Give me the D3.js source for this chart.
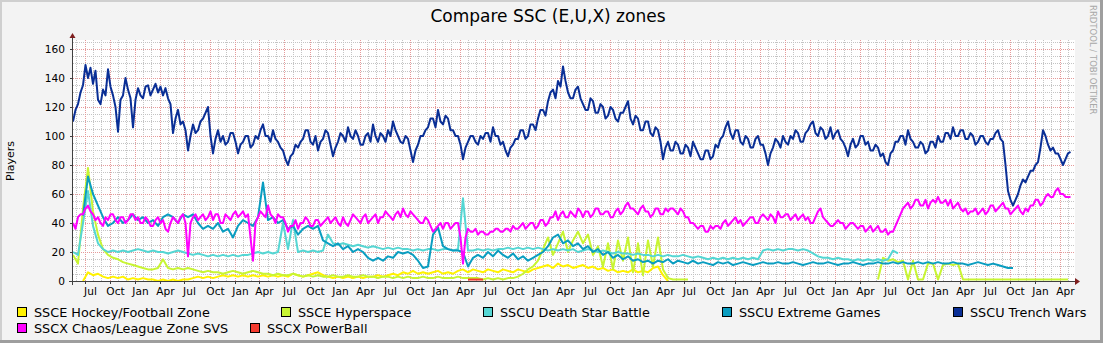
<!DOCTYPE html>
<html><head><meta charset="utf-8">
<script src="https://cdn.jsdelivr.net/npm/d3@7"></script>
<style>
html,body{margin:0;padding:0;background:#f3f3f3;}
svg{display:block;font-family:"DejaVu Sans",sans-serif;}
</style></head>
<body>
<svg id="chart" width="1103" height="343"></svg>
<script>
// ---- data (regular RRD steps across 10 years) ----
const startDate = new Date(2009, 4, 20);
const endDate = new Date(2019, 4, 20);

const seriesNames = ["SSCE Hockey/Football Zone","SSCE Hyperspace","SSCU Death Star Battle","SSCU Extreme Games","SSCU Trench Wars","SSCX Chaos/League Zone SVS","SSCX PowerBall"];
const seriesColors = ["#fff200","#c8f532","#55d6d3","#0a9dc0","#0a2f96","#ff00ff","#f53b2f"];

const _ = null;
// 201 samples (~18 days each)
const hockey = [_,_,0,6,4,5,3,2,3,2, 3,1,2,1,2,1,1,0,1,0, 1,0,1,1,2,3,2,3,2,3, 4,3,4,3,4,3,4,3,4,3,
 4,3,4,3,5,4,3,4,5,6, 4,3,2,3,2,3,2,3,2,3, 3,4,3,4,5,4,6,5,7,5, 6,5,6,7,5,6,5,7,8,6,
 8,7,6,8,7,6,8,7,6,8, 7,6,8,9,10,11,9,12,10,11, 9,10,11,9,10,8,9,7,8,6, 7,6,8,6,7,6,9,10,4,0,
 _,_,_,_,_,_,_,_,_,_, _,_,_,_,_,_,_,_,_,_, _,_,_,_,_,_,_,_,_,_, _,_,_,_,_,_,_,_,_,_,
 _,_,_,_,_,_,_,_,_,_, _,_,_,_,_,_,_,_,_,_, _,_,_,_,_,_,_,_,_,_, _,_,_,_,_,_,_,_,_,_, _];
const hyperspace = [18,12,50,78,48,32,22,18,16,15, 13,12,11,10,9,8,8,9,15,9, 8,9,8,9,8,7,6,7,6,6, 5,6,7,6,5,6,7,6,5,5,
 4,5,4,4,5,4,3,4,3,4, 3,3,4,3,3,4,3,3,4,3, 3,2,3,3,2,3,2,3,2,2, 3,2,2,3,2,2,2,3,2,2,
 2,2,1,2,1,2,1,2,2,3, 5,8,10,14,22,30,18,26,34,20, 28,34,26,32,18,24,10,26,8,28, 14,30,6,26,4,28,10,30,8,2,
 1,1,1,1,_,_,_,_,_,_, _,_,_,_,_,_,_,_,_,_, _,_,_,_,_,_,_,_,_,_, _,_,_,_,_,_,_,_,_,_,
 _,1,16,14,15,13,14,1,14,1, 1,12,12,1,11,12,11,12,1,1, 1,1,1,1,1,1,1,1,1,1, 1,1,1,1,1,1,1,1,1,1, _];
const deathStar = [20,18,40,62,38,26,22,20,21,20, 21,20,21,22,21,20,21,20,20,19, 20,21,20,19,18,19,18,17,18,17, 18,17,18,17,18,18,19,20,19,20,
 19,20,40,22,42,20,21,20,21,20, 21,32,26,25,26,25,24,25,24,23, 24,23,22,23,22,23,22,22,21,22, 21,22,22,21,22,22,21,22,57,21,
 21,22,21,22,21,22,22,23,22,23, 22,23,22,23,22,21,22,21,22,21, 22,20,21,22,21,20,21,20,19,20, 19,19,18,19,18,18,17,18,17,18,
 17,17,18,17,16,17,16,15,16,15, 16,15,16,15,16,15,16,15,21,22, 21,22,21,22,22,21,22,21,19,17, 16,16,15,16,15,15,14,15,14,15,
 14,15,14,15,21,19,_,_,_,_, _,_,_,_,_,_,_,_,_,_, _,_,_,_,_,_,_,_,_,_, _,_,_,_,_,_,_,_,_,_, _];
const extremeGames = [_,_,45,72,60,52,44,38,40,44, 40,42,46,42,44,40,42,38,44,46, 44,40,46,44,46,40,36,38,36,40, 34,36,30,38,42,40,38,44,68,42,
 44,40,42,36,38,32,36,38,36,38, 28,26,24,26,22,24,20,22,20,16, 14,16,14,17,16,20,19,20,18,14, 9,10,32,37,24,22,21,21,20,10,
 16,18,16,20,17,21,18,16,19,15, 17,14,16,18,20,24,30,32,26,28, 24,26,22,24,20,22,18,20,16,18, 15,17,14,15,13,14,12,14,13,15,
 12,14,13,12,14,12,13,12,11,13, 12,13,11,12,13,12,11,12,13,12, 12,13,12,12,13,12,11,12,13,12, 12,13,12,11,12,12,13,12,11,12,
 12,13,12,12,13,12,13,12,12,13, 12,13,12,13,12,12,13,12,12,11, 12,13,12,11,12,11,10,9,9,_, _,_,_,_,_,_,_,_,_,_, _];
// 401 samples (~9 days each)
const trenchWars = [110,118,122,130,135,149,140,147,136,145, 125,122,132,128,146,134,128,120,103,125,
 128,140,132,126,106,125,133,128,126,134, 135,128,132,136,130,134,128,133,126,122,
 102,112,118,108,110,104,90,100,108,102, 104,110,112,116,120,100,88,98,104,96,
 100,94,96,102,102,96,88,94,96,100, 100,92,94,100,98,104,108,100,100,96,
 104,98,96,92,90,84,80,86,88,94, 92,96,98,104,104,96,94,100,90,96,
 98,104,102,94,86,92,96,102,100,96, 106,100,98,104,100,94,94,100,102,96,
 108,100,96,102,100,96,104,100,110,104, 100,96,95,100,98,90,82,90,94,100,
 100,104,106,112,112,106,118,110,108,114, 112,104,104,100,100,94,84,92,96,100,
 100,96,94,100,98,102,102,96,106,100, 100,94,96,90,86,92,94,98,98,104,
 104,98,100,108,108,104,112,118,118,114, 124,130,132,126,138,134,148,138,130,126,
 126,132,134,126,122,118,118,126,124,116, 116,122,120,112,114,120,118,112,110,116,
 116,120,124,112,108,114,112,104,104,110, 110,102,100,106,104,96,84,92,96,90,
 90,96,94,88,88,94,92,86,96,92, 88,84,84,90,90,84,86,94,92,98,
 100,106,110,102,98,104,104,96,94,100, 98,92,92,98,100,94,94,88,80,88,
 92,98,96,92,100,96,94,100,98,104, 102,96,96,102,104,108,110,102,100,106,
 104,98,100,106,98,102,104,98,96,92, 86,94,98,92,94,100,100,94,96,90,
 90,94,92,86,88,82,80,88,90,96, 96,100,100,94,104,98,96,92,92,96,
 94,88,90,96,96,92,100,96,96,102, 102,98,106,100,100,104,104,98,98,102,
 100,94,96,100,100,96,94,98,98,102, 104,98,96,80,62,56,52,56,60,66,
 70,68,72,76,76,80,82,92,104,100, 94,90,92,88,88,84,80,84,88,89, _];
const chaos = [40,36,44,46,46,50,52,48,46,42, 44,40,38,44,42,46,46,42,40,44,
 44,40,42,46,46,42,44,40,40,44, 42,38,38,42,44,40,42,36,34,40,
 44,42,40,44,46,40,17,40,44,46, 42,44,46,42,44,48,42,46,46,40,
 40,46,44,42,46,48,44,46,48,44, 46,30,14,40,44,48,46,44,52,46,
 44,40,46,44,44,40,34,38,38,42, 36,40,40,44,42,38,38,42,42,38,
 40,42,44,40,42,44,40,38,44,40, 38,42,46,44,42,40,44,46,40,42,
 44,46,40,44,44,48,46,44,42,46, 48,44,50,46,44,48,46,44,42,40,
 40,44,42,38,34,36,38,40,36,40, 40,36,38,40,40,30,12,30,36,34,
 34,36,32,34,34,32,32,34,34,36, 36,34,34,36,36,34,38,36,36,38,
 40,36,38,40,40,36,38,42,42,38, 40,44,44,48,42,46,48,44,44,48,
 46,44,50,48,44,48,48,44,46,50, 50,46,46,48,48,44,44,48,50,46,
 48,52,54,50,50,48,46,50,52,48, 48,44,46,50,50,46,46,50,48,50,
 50,48,46,50,48,44,44,40,40,38, 36,38,38,34,34,38,36,38,38,36,
 40,42,38,40,42,44,40,42,38,40, 42,44,44,40,40,44,46,44,42,46,
 44,40,48,44,44,46,46,42,44,46, 42,44,46,42,44,40,40,44,48,50,
 44,42,40,38,38,40,42,40,40,36, 38,40,40,38,36,38,38,34,36,38,
 34,36,38,34,34,36,32,34,34,38, 42,46,50,52,54,50,52,56,56,52,
 52,56,50,54,56,54,58,54,54,56, 52,56,50,52,54,50,48,50,46,48,
 48,50,46,48,50,46,48,52,52,48, 50,52,54,50,50,46,48,50,52,48,
 46,50,48,52,52,56,56,52,54,58, 60,58,58,62,64,60,60,58,58,58, _];
const powerBall = [...Array(79).fill(_), 1,1,1,1, ...Array(118).fill(_)];

const allSeries = [hockey, hyperspace, deathStar, extremeGames, trenchWars, chaos, powerBall];
const yTickValues = [0,20,40,60,80,100,120,140,160];
const titleText = "Compare SSC (E,U,X) zones";
const yAxisTitle = "Players";

// ---- drawing ----
const svg = d3.select("#chart");
const W = 1103, H = 343;
const plotL = 73, plotR = 1074, plotT = 40, plotB = 281;

const x = d3.scaleTime().domain([startDate, endDate]).range([plotL, 1073]);
const y = d3.scaleLinear().domain([0, 166.2]).range([plotB, plotT]);
const span = endDate - startDate;

svg.append("rect").attr("width", W).attr("height", H).attr("fill", "#f3f3f3");
svg.append("rect").attr("x",0).attr("y",0).attr("width",W).attr("height",2).attr("fill","#cfcfcf");
svg.append("rect").attr("x",0).attr("y",0).attr("width",2).attr("height",H).attr("fill","#cfcfcf");
svg.append("rect").attr("x",W-3).attr("y",0).attr("width",3).attr("height",H).attr("fill","#9e9e9e");
svg.append("rect").attr("x",0).attr("y",H-3).attr("width",W).attr("height",3).attr("fill","#9e9e9e");

svg.append("rect").attr("x", plotL).attr("y", plotT).attr("width", plotR - plotL + 1).attr("height", plotB - plotT).attr("fill", "#ffffff");

const grid = svg.append("g").attr("shape-rendering", "crispEdges");
d3.range(5, 166, 5).filter(v => v % 20 !== 0).forEach(v => {
  grid.append("line").attr("x1", plotL).attr("x2", plotR + 1).attr("y1", Math.round(y(v)) + 0.5).attr("y2", Math.round(y(v)) + 0.5)
    .attr("stroke", "#c4c4c4").attr("stroke-dasharray", "1,1");
});
x.ticks(d3.timeMonth.every(1)).forEach(t => {
  if (t.getMonth() % 3 === 0) return;
  const px = Math.round(x(t)) + 0.5;
  grid.append("line").attr("x1", px).attr("x2", px).attr("y1", plotT).attr("y2", plotB)
    .attr("stroke", "#c4c4c4").attr("stroke-dasharray", "1,1");
});
yTickValues.filter(v => v > 0).forEach(v => {
  grid.append("line").attr("x1", plotL).attr("x2", plotR + 1).attr("y1", Math.round(y(v)) + 0.5).attr("y2", Math.round(y(v)) + 0.5)
    .attr("stroke", "#e59a9a").attr("stroke-dasharray", "1,1");
});
const quarterTicks = x.ticks(d3.timeMonth.every(3));
quarterTicks.forEach(t => {
  const px = Math.round(x(t)) + 0.5;
  grid.append("line").attr("x1", px).attr("x2", px).attr("y1", plotT).attr("y2", plotB)
    .attr("stroke", "#e59a9a").attr("stroke-dasharray", "1,1");
});

const lineGen = d3.line()
  .defined(d => d.v != null)
  .x(d => x(d.t))
  .y(d => y(d.v));
allSeries.forEach((arr, k) => {
  const step = span / (arr.length - 1);
  const pts = arr.map((v, i) => ({ t: new Date(startDate.getTime() + i * step), v: v }));
  svg.append("path").datum(pts).attr("d", lineGen)
    .attr("fill", "none").attr("stroke", seriesColors[k]).attr("stroke-width", 2)
    .attr("stroke-linejoin", "round");
});

const axisG = svg.append("g");
axisG.append("line").attr("x1", 69).attr("x2", 1077).attr("y1", plotB + 0.5).attr("y2", plotB + 0.5)
  .attr("stroke", "#404040").attr("shape-rendering", "crispEdges");
axisG.append("line").attr("x1", plotL - 0.5).attr("x2", plotL - 0.5).attr("y1", plotB + 4).attr("y2", 37)
  .attr("stroke", "#404040").attr("shape-rendering", "crispEdges");
axisG.append("path").attr("d", `M1075,${plotB - 3} L1080,${plotB + 0.5} L1075,${plotB + 4} Z`).attr("fill", "#7f1f1f");
axisG.append("path").attr("d", `M${plotL - 3.5},38 L${plotL - 0.5},33 L${plotL + 2.5},38 Z`).attr("fill", "#7f1f1f");

yTickValues.forEach(v => {
  const py = Math.round(y(v)) + 0.5;
  axisG.append("line").attr("x1", plotL - 3).attr("x2", plotL).attr("y1", py).attr("y2", py).attr("stroke", "#404040");
  axisG.append("text").attr("x", 65).attr("y", py).attr("dy", "0.36em").attr("text-anchor", "end")
    .attr("font-size", "10.6px").attr("fill", "#000").text(v);
});
const fmt = d3.timeFormat("%b");
quarterTicks.forEach(t => {
  const px = Math.round(x(t)) + 0.5;
  axisG.append("line").attr("x1", px).attr("x2", px).attr("y1", plotB).attr("y2", plotB + 3).attr("stroke", "#404040");
  axisG.append("text").attr("x", px + 5).attr("y", 295).attr("text-anchor", "middle")
    .attr("font-size", "10.6px").attr("fill", "#000").text(fmt(t));
});

svg.append("text").attr("x", 548).attr("y", 22).attr("text-anchor", "middle")
  .attr("font-size", "17px").attr("fill", "#000").text(titleText);
svg.append("text").attr("transform", "translate(14,161) rotate(-90)").attr("text-anchor", "middle")
  .attr("font-size", "11px").attr("fill", "#000").text(yAxisTitle);
svg.append("text").attr("transform", "translate(1090,5) rotate(90)").attr("text-anchor", "start")
  .attr("font-size", "8.5px").attr("fill", "#a8a8a8").text("RRDTOOL / TOBI OETIKER");

const legendPos = [[17,307],[281,307],[483,307],[722,307],[953,307],[17,323],[250,323]];
seriesNames.forEach((name, k) => {
  const [lx, ly] = legendPos[k];
  svg.append("rect").attr("x", lx + 0.5).attr("y", ly + 0.5).attr("width", 9).attr("height", 9)
    .attr("fill", seriesColors[k]).attr("stroke", "#000").attr("stroke-width", 1);
  svg.append("text").attr("x", lx + 17).attr("y", ly + 9.5).attr("font-size", "12.8px").attr("fill", "#000").text(name);
});
</script>
</body></html>
